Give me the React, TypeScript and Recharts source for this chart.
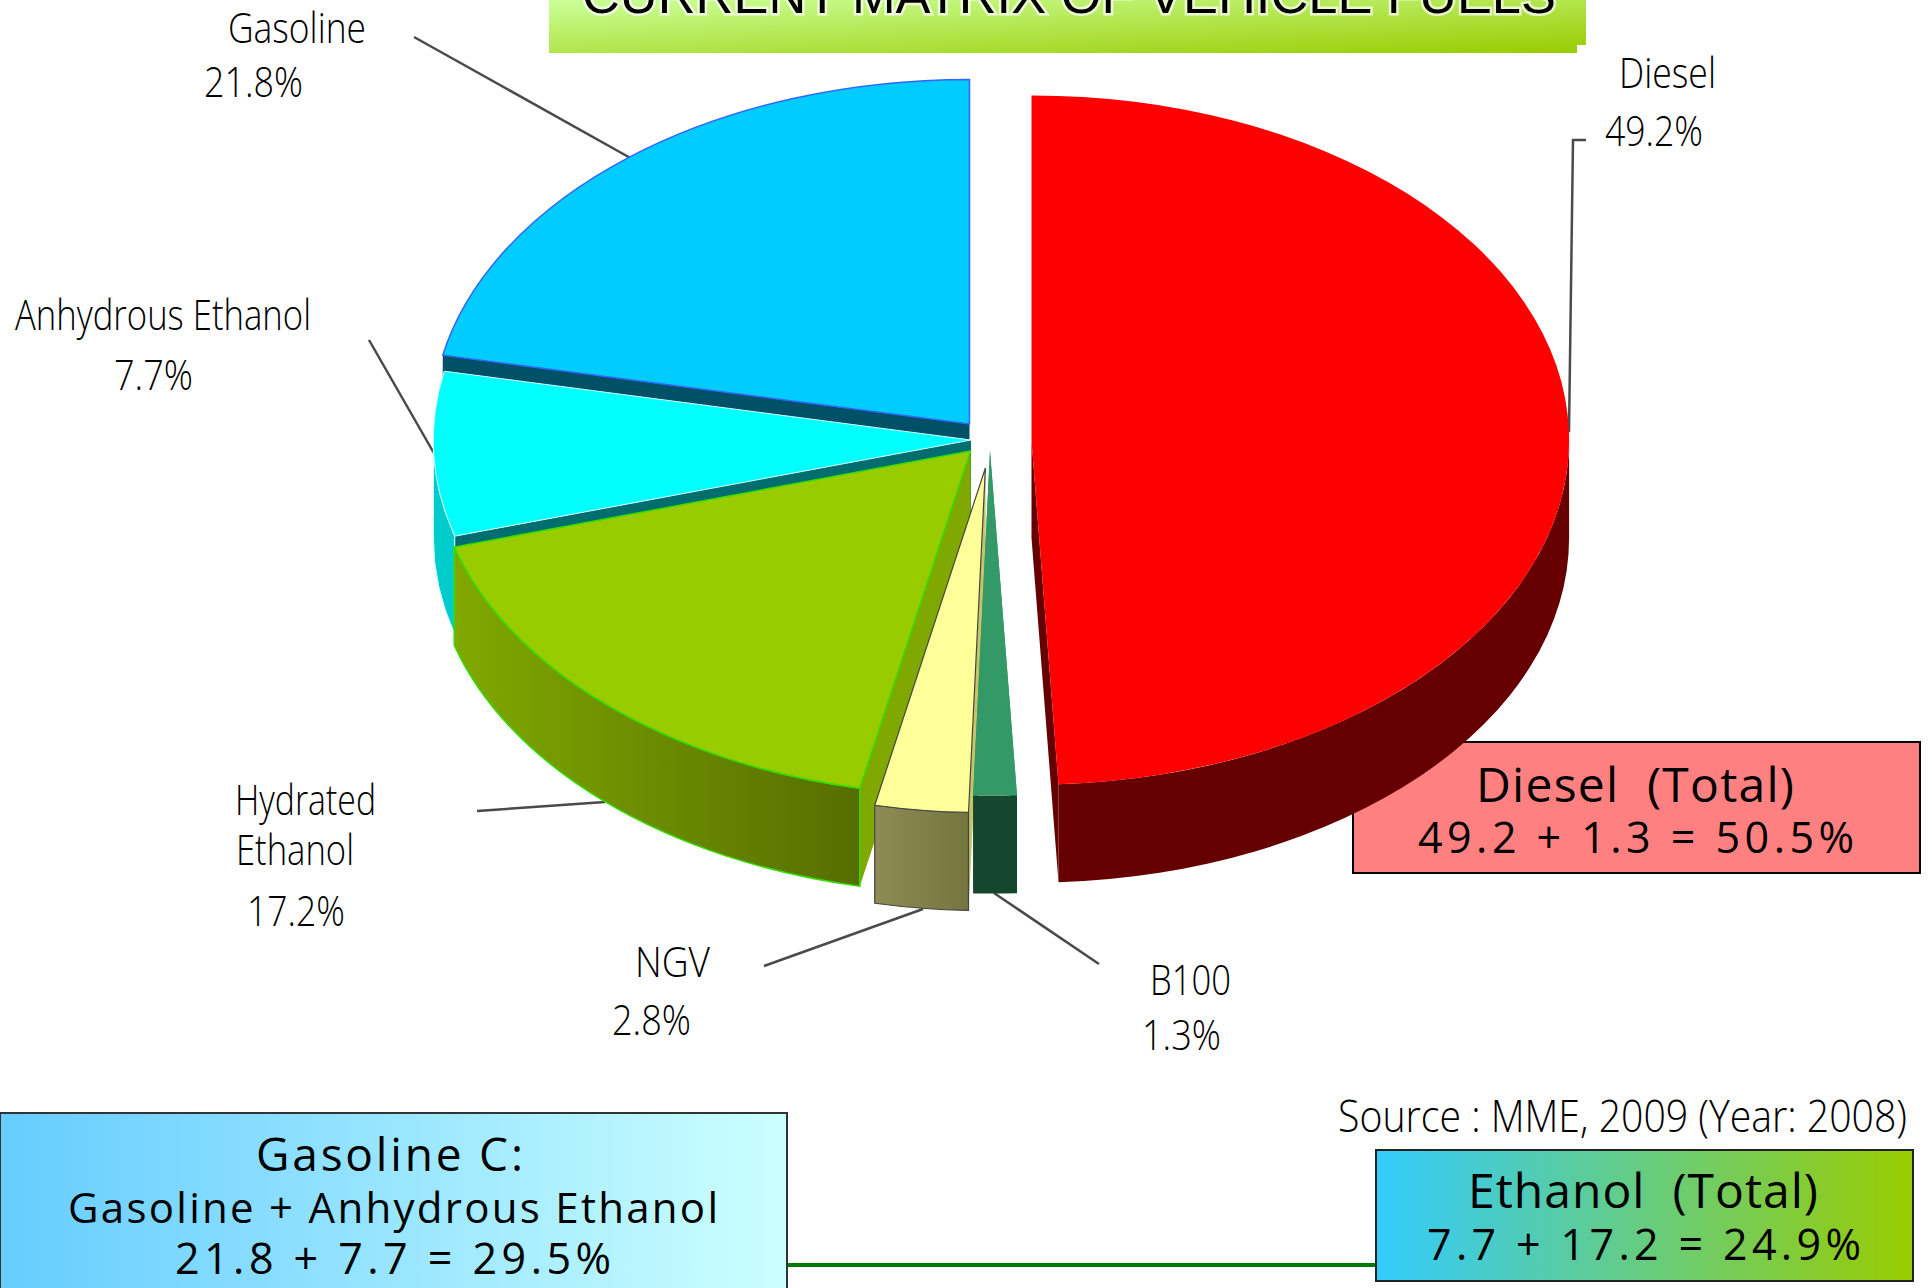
import { PieChart, Pie } from 'recharts';

// fuels in paint order: counter-clockwise from 12 o'clock, so the front slices land on top
const fuels = ['Gasoline', 'Anhydrous Ethanol', 'Hydrated Ethanol', 'NGV', 'B100', 'Diesel'];
const shares = [21.8, 7.7, 17.2, 2.8, 1.3, 49.2];

const data = fuels.map((name, i) => ({ name, value: shares[i] }));

const WIDTH = 1929;
const HEIGHT = 1288;
const PIE_X = 972;
const PIE_Y = 440;
const RADIUS = 537.6;
const TILT = 0.641;
const DEPTH = 98;
const TITLE = 'CURRENT MATRIX OF VEHICLE FUELS';

type SliceLook = { dx: number; dy: number; top: string; side: string; wall: string; stroke: string; strokeWidth: number };

const looks: Record<string, SliceLook> = {
  Gasoline: { dx: -2.5, dy: -16, top: '#00ccff', side: '#005068', wall: '#00a0c8', stroke: '#3366ff', strokeWidth: 1.5 },
  'Anhydrous Ethanol': { dx: -1, dy: 0, top: '#00ffff', side: '#006e6e', wall: '#00cccc', stroke: '#d8ffff', strokeWidth: 1 },
  'Hydrated Ethanol': { dx: -1.5, dy: 11, top: '#99cc00', side: '#7fa800', wall: 'url(#hydratedWall)', stroke: '#33dd00', strokeWidth: 1.5 },
  NGV: { dx: 13.4, dy: 28, top: '#ffff99', side: '#c4c468', wall: 'url(#ngvWall)', stroke: '#444444', strokeWidth: 1.2 },
  B100: { dx: 18, dy: 11, top: '#339966', side: '#339966', wall: '#14472e', stroke: 'none', strokeWidth: 0 },
  Diesel: { dx: 59.5, dy: 0, top: '#ff0000', side: '#660000', wall: '#660000', stroke: 'none', strokeWidth: 0 },
};

// each slice is a tilted prism: radial faces, outer wall, then the top
const SliceShape = (props: any) => {
  const look = looks[props.name ?? props.payload?.name];
  const cx = props.cx + look.dx;
  const cy = props.cy + look.dy;
  const rx = props.outerRadius;
  const ry = rx * TILT;
  const a = Math.min(props.startAngle, props.endAngle);
  const b = Math.max(props.startAngle, props.endAngle);
  const px = (deg: number) => cx + rx * Math.cos((deg * Math.PI) / 180);
  const py = (deg: number) => cy - ry * Math.sin((deg * Math.PI) / 180);
  const large = b - a > 180 ? 1 : 0;

  const face = (deg: number) =>
    `M${cx},${cy} L${cx},${cy + DEPTH} L${px(deg)},${py(deg) + DEPTH} L${px(deg)},${py(deg)} Z`;

  // only the part of the rim that faces the viewer gets a wall
  const from = Math.max(a, 180);
  const to = Math.min(b, 360);
  const wall =
    to > from
      ? `M${px(from)},${py(from)} A${rx},${ry} 0 ${to - from > 180 ? 1 : 0} 0 ${px(to)},${py(to)} ` +
        `L${px(to)},${py(to) + DEPTH} A${rx},${ry} 0 ${to - from > 180 ? 1 : 0} 1 ${px(from)},${py(from) + DEPTH} Z`
      : null;

  return (
    <g>
      <path d={face(a)} fill={look.side} />
      <path d={face(b)} fill={look.side} />
      {wall && <path d={wall} fill={look.wall} stroke={look.stroke} strokeWidth={look.strokeWidth} />}
      <path
        d={`M${cx},${cy} L${px(a)},${py(a)} A${rx},${ry} 0 ${large} 0 ${px(b)},${py(b)} Z`}
        fill={look.top}
        stroke={look.stroke}
        strokeWidth={look.strokeWidth}
      />
    </g>
  );
};

// slice labels get squeezed to width, box captions get letter-spaced
const Txt = ({ x, y, w, size, children, spaced = false }: any) => (
  <text
    x={x}
    y={y}
    fontFamily="'Open Sans', sans-serif"
    fontSize={size}
    fontWeight={spaced ? 400 : 350}
    fill="#000"
    textLength={w}
    lengthAdjust={spaced ? 'spacing' : 'spacingAndGlyphs'}
    style={{ whiteSpace: 'pre' }}
  >
    {children}
  </text>
);

const sliceLabels = [
  { text: 'Gasoline', x: 228, y: 43, w: 138 },
  { text: `${shares[0]}%`, x: 204, y: 97, w: 99 },
  { text: 'Anhydrous Ethanol', x: 15, y: 330, w: 296 },
  { text: `${shares[1]}%`, x: 114, y: 390, w: 79 },
  { text: 'Hydrated', x: 235, y: 815, w: 141 },
  { text: 'Ethanol', x: 236, y: 865, w: 118 },
  { text: `${shares[2]}%`, x: 247, y: 926, w: 98 },
  { text: 'NGV', x: 635, y: 977, w: 75 },
  { text: `${shares[3]}%`, x: 612, y: 1035, w: 79 },
  { text: 'B100', x: 1150, y: 995, w: 81 },
  { text: `${shares[4]}%`, x: 1142, y: 1050, w: 79 },
  { text: 'Diesel', x: 1619, y: 88, w: 97 },
  { text: `${shares[5]}%`, x: 1605, y: 146, w: 98 },
];

const leaders = [
  '414,37 634,160',
  '369,340 435,455',
  '477,811 605,802',
  '764,966 923,909',
  '1099,964 994,893',
  '1586,140 1573,140 1569,432',
];

const App = () => (
  <div style={{ position: 'absolute', left: 0, top: 0, width: WIDTH, height: HEIGHT, background: '#fff' }}>
    <PieChart width={WIDTH} height={HEIGHT} margin={{ top: 0, right: 0, bottom: 0, left: 0 }}>
      <defs>
        <linearGradient id="hydratedWall" x1="0" y1="0" x2="1" y2="0">
          <stop offset="0" stopColor="#80a800" />
          <stop offset="1" stopColor="#556e00" />
        </linearGradient>
        <linearGradient id="ngvWall" x1="0" y1="0" x2="1" y2="0">
          <stop offset="0" stopColor="#8e8c54" />
          <stop offset="1" stopColor="#757540" />
        </linearGradient>
        <linearGradient id="titleFill" x1="0" y1="0" x2="1" y2="1">
          <stop offset="0" stopColor="#ccff99" />
          <stop offset="1" stopColor="#99cc00" />
        </linearGradient>
        <linearGradient id="gasolineBox" x1="0" y1="0" x2="1" y2="0">
          <stop offset="0" stopColor="#66ccff" />
          <stop offset="1" stopColor="#ccffff" />
        </linearGradient>
        <linearGradient id="ethanolBox" x1="0" y1="0" x2="1" y2="0">
          <stop offset="0" stopColor="#33ccff" />
          <stop offset="1" stopColor="#99cc00" />
        </linearGradient>
      </defs>

      <path d="M549,0 H1586 V45 H1577 V53 H549 Z" fill="url(#titleFill)" />
      <text
        x={582}
        y={13}
        fontFamily="'Liberation Sans', sans-serif"
        fontSize={52}
        textLength={974}
        lengthAdjust="spacingAndGlyphs"
        fill="#000"
        stroke="#fff"
        strokeWidth={5}
        strokeOpacity={0.7}
        paintOrder="stroke"
      >
        {TITLE}
      </text>

      {leaders.map((points) => (
        <polyline key={points} points={points} fill="none" stroke="#4a4a4a" strokeWidth={2.5} />
      ))}

      <Pie
        data={data}
        dataKey="value"
        nameKey="name"
        cx={PIE_X}
        cy={PIE_Y}
        outerRadius={RADIUS}
        startAngle={90}
        endAngle={450}
        stroke="none"
        shape={SliceShape}
        isAnimationActive={false}
      />

      {sliceLabels.map((l) => (
        <Txt key={l.text + l.x} x={l.x} y={l.y} w={l.w} size={42}>
          {l.text}
        </Txt>
      ))}

      <rect x={1353} y={742} width={567} height={131} fill="#ff8080" stroke="#000" strokeWidth={2} />
      <Txt spaced x={1476} y={802} w={318} size={48}>{'Diesel  (Total)'}</Txt>
      <Txt spaced x={1418} y={853} w={436} size={43}>{`${shares[5]} + ${shares[4]} = 50.5%`}</Txt>

      <Txt x={1338} y={1132} w={569} size={44}>Source : MME, 2009 (Year: 2008)</Txt>

      <line x1={787} y1={1265} x2={1376} y2={1265} stroke="#007a00" strokeWidth={4} />

      <rect x={1376} y={1150} width={537} height={131} fill="url(#ethanolBox)" stroke="#222" strokeWidth={2} />
      <Txt spaced x={1468} y={1208} w={350} size={48}>{'Ethanol  (Total)'}</Txt>
      <Txt spaced x={1427} y={1260} w={434} size={43}>{`${shares[1]} + ${shares[2]} = 24.9%`}</Txt>

      <rect x={0} y={1113} width={787} height={185} fill="url(#gasolineBox)" stroke="#333" strokeWidth={2} />
      <Txt spaced x={256} y={1171} w={267} size={46}>Gasoline C:</Txt>
      <Txt spaced x={68} y={1223} w={650} size={42}>Gasoline + Anhydrous Ethanol</Txt>
      <Txt spaced x={175} y={1274} w={436} size={43}>{`${shares[0]} + ${shares[1]} = 29.5%`}</Txt>
    </PieChart>
  </div>
);

export default App;
